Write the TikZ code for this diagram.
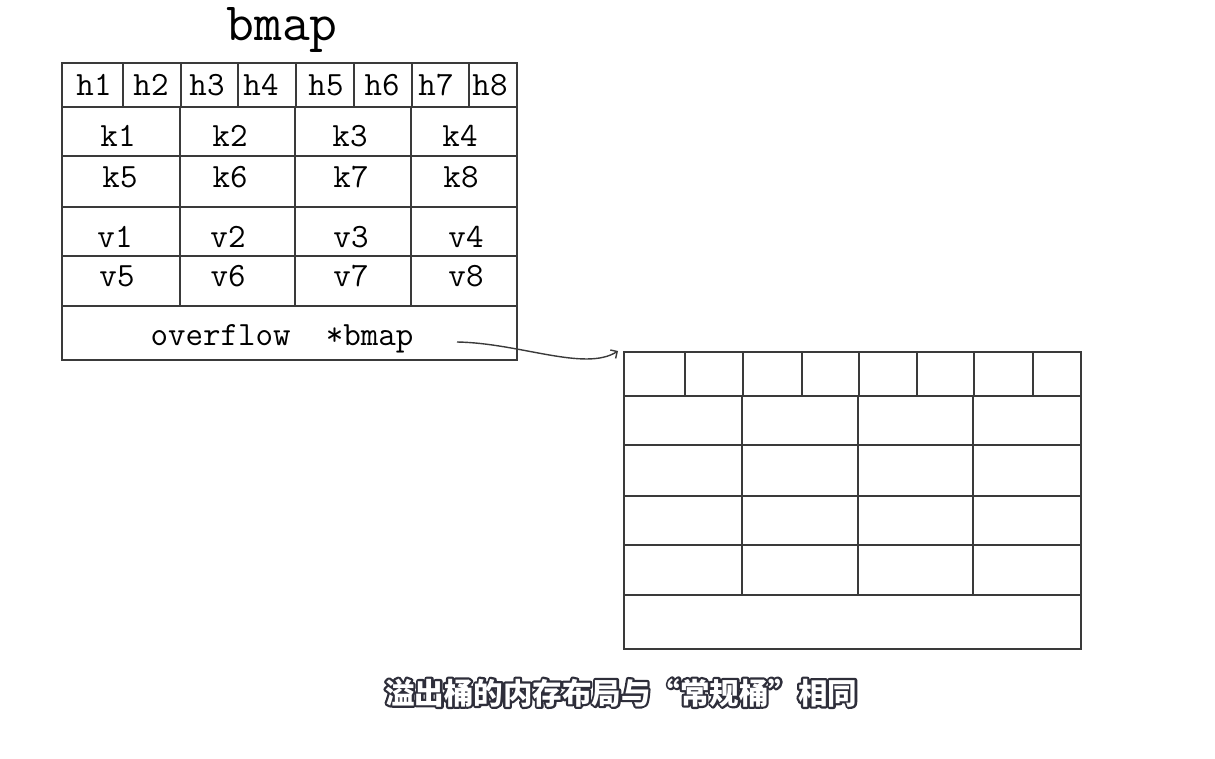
\documentclass[tikz,border=0pt]{standalone}
\usepackage{fontspec}
\newfontfamily\cjk{Noto Sans CJK SC}
\usetikzlibrary{arrows.meta}
\definecolor{rahmen}{HTML}{3A3A3A}
\definecolor{kontur}{HTML}{2E2E3A}
% Textkontur (Stroke-Modus)
\newcommand\umriss[1]{\special{pdf:literal direct q 1 Tr 4.4 w 1 j}#1\special{pdf:literal direct Q}}
\begin{document}
\begin{tikzpicture}[
    x=1pt, y=-1pt,
    grid/.style={draw=rahmen, line width=1.3pt},
    cell/.style={inner sep=0pt, anchor=base, font=\fontsize{34}{40}\selectfont\ttfamily},
    arrow/.style={-{Straight Barb[length=5pt, width=10pt]}, line width=1.4pt, draw=rahmen},
    subtitle/.style={inner sep=0pt, anchor=base, font=\fontsize{29.5}{34}\selectfont\cjk\bfseries}
]
    \useasboundingbox (0,0) rectangle (1215,759);

    % Titel
    \node[cell, font=\fontsize{54}{62}\selectfont\ttfamily] (title) at (282,41) {bmap};

    % Tabelle links
    \draw[grid] (62,63) rectangle (517,360);
    \foreach \y in {107,156,207,256,306}
        \draw[grid] (62,\y) -- (517,\y);
    \foreach \x in {123,181,238,296,354,412,469}
        \draw[grid] (\x,63) -- (\x,107);
    \foreach \x in {180,295,411}
        \draw[grid] (\x,107) -- (\x,306);

    % Beschriftung links
    \foreach \x/\t in {94/h1,151/h2,207/h3,261/h4,326/h5,382/h6,436/h7,490/h8}
        \node[cell] (\t) at (\x,96) {\t};
    \foreach \x/\t in {118/k1,230/k2,350/k3,460/k4}
        \node[cell] (\t) at (\x,147) {\t};
    \foreach \x/\t in {120/k5,230/k6,351/k7,461/k8}
        \node[cell] (\t) at (\x,188) {\t};
    \foreach \x/\t in {115/v1,228/v2,351/v3,466/v4}
        \node[cell] (\t) at (\x,248) {\t};
    \foreach \x/\t in {117/v5,228/v6,351/v7,466/v8}
        \node[cell] (\t) at (\x,287) {\t};
    \node[cell] (ovfl) at (282,345) {overflow\ \ *bmap};

    % Tabelle rechts (Overflow-Bucket)
    \draw[grid] (624,352) rectangle (1081,649);
    \foreach \y in {396,445,496,545,595}
        \draw[grid] (624,\y) -- (1081,\y);
    \foreach \x in {685,743,802,859,917,974,1033}
        \draw[grid] (\x,352) -- (\x,396);
    \foreach \x in {742,858,973}
        \draw[grid] (\x,396) -- (\x,595);

    % Zeiger
    \coordinate (ptr) at (457,342);
    \coordinate (bucket) at (618,351);
    \draw[arrow] (ptr) .. controls (520,343) and (585,372) .. (bucket);

    % Untertitel
    \node[subtitle, text=kontur] (shadow) at (621,704) {\umriss{溢出桶的内存布局与“常规桶”相同}};
    \node[subtitle, text=white] (caption) at (621,704) {溢出桶的内存布局与“常规桶”相同};
\end{tikzpicture}
\end{document}
